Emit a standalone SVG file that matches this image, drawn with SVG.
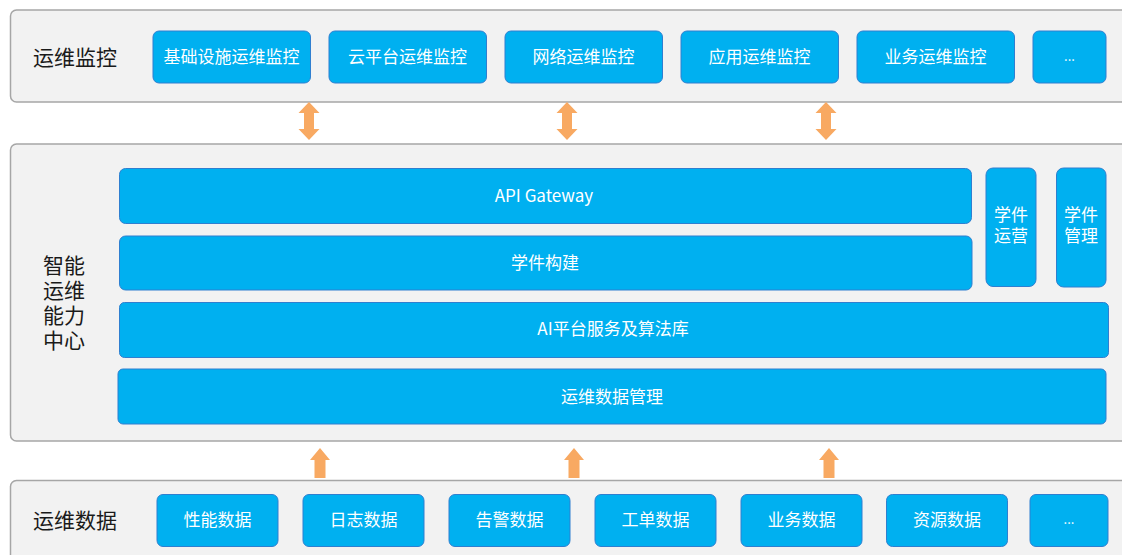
<svg xmlns="http://www.w3.org/2000/svg" width="1122" height="555" viewBox="0 0 1122 555">
<style>
.panel{fill:#F2F2F2;stroke:#A6A6A6;stroke-width:1.5}
.box{fill:#00B0F0;stroke:#2F7FD0;stroke-width:1}
.bt{fill:#FFFFFF;font-family:"Noto Sans CJK SC","Liberation Sans",sans-serif;font-size:17px;text-anchor:middle;dominant-baseline:central}
.bt2{fill:#FFFFFF;font-family:"Liberation Sans","Noto Sans CJK SC",sans-serif;font-size:17px;text-anchor:middle}
.lbl{fill:#1A1A1A;font-family:"Noto Sans CJK SC","Liberation Sans",sans-serif;font-size:21px;text-anchor:middle;dominant-baseline:central}
.lbl2{fill:#1A1A1A;font-family:"Liberation Sans","Noto Sans CJK SC",sans-serif;font-size:21px;text-anchor:middle}
.arr{fill:#F8A962}
</style>
<rect width="1122" height="555" fill="#FFFFFF"/>

<g id="panel-monitor">
<rect class="panel" x="10.5" y="10" width="1130" height="92" rx="6"/>
<text class="lbl" x="75" y="55.5">运维监控</text>
</g>
<g id="panel-center">
<rect class="panel" x="10.5" y="144" width="1130" height="297" rx="6"/>
<text class="lbl2" x="64" y="273"><tspan x="64" y="273">智能</tspan><tspan x="64" y="298">运维</tspan><tspan x="64" y="323">能力</tspan><tspan x="64" y="348">中心</tspan></text>
</g>
<g id="panel-data">
<rect class="panel" x="10.5" y="480.5" width="1130" height="90" rx="6"/>
<text class="lbl" x="75" y="518.5">运维数据</text>
</g>

<g id="m1"><rect class="box" x="153" y="31" width="157.5" height="52" rx="6"/><text class="bt" x="231.5" y="55.5">基础设施运维监控</text></g>
<g id="m2"><rect class="box" x="329" y="31" width="157.5" height="52" rx="6"/><text class="bt" x="407.5" y="55.5">云平台运维监控</text></g>
<g id="m3"><rect class="box" x="505" y="31" width="157.5" height="52" rx="6"/><text class="bt" x="583.5" y="55.5">网络运维监控</text></g>
<g id="m4"><rect class="box" x="681" y="31" width="157.5" height="52" rx="6"/><text class="bt" x="759.5" y="55.5">应用运维监控</text></g>
<g id="m5"><rect class="box" x="857" y="31" width="157.5" height="52" rx="6"/><text class="bt" x="935.5" y="55.5">业务运维监控</text></g>
<g id="m6"><rect class="box" x="1033" y="31" width="73" height="52" rx="6"/><text class="bt" x="1069.5" y="55.5" style="font-size:13px">...</text></g>

<g id="api"><rect class="box" x="119.5" y="168.5" width="852" height="55" rx="6"/><text class="bt" x="544" y="194.5">API Gateway</text></g>
<g id="build"><rect class="box" x="119.5" y="236" width="852.5" height="54" rx="6"/><text class="bt" x="545" y="261.5">学件构建</text></g>
<g id="ops"><rect class="box" x="986" y="168" width="50" height="118.5" rx="7"/><text class="bt2" x="1011" y="221"><tspan x="1011" y="221">学件</tspan><tspan x="1011" y="242">运营</tspan></text></g>
<g id="mgmt"><rect class="box" x="1056.5" y="168" width="49.5" height="119" rx="7"/><text class="bt2" x="1081" y="221"><tspan x="1081" y="221">学件</tspan><tspan x="1081" y="242">管理</tspan></text></g>
<g id="ai"><rect class="box" x="119.5" y="302.5" width="989" height="55" rx="5"/><text class="bt" x="613" y="327.5">AI平台服务及算法库</text></g>
<g id="dm"><rect class="box" x="118" y="369" width="988" height="55" rx="5"/><text class="bt" x="612" y="395.5">运维数据管理</text></g>

<g id="d1"><rect class="box" x="157" y="494.5" width="121" height="52" rx="6"/><text class="bt" x="217.5" y="518.5">性能数据</text></g>
<g id="d2"><rect class="box" x="303" y="494.5" width="121" height="52" rx="6"/><text class="bt" x="363.5" y="518.5">日志数据</text></g>
<g id="d3"><rect class="box" x="449" y="494.5" width="121" height="52" rx="6"/><text class="bt" x="509.5" y="518.5">告警数据</text></g>
<g id="d4"><rect class="box" x="595" y="494.5" width="121" height="52" rx="6"/><text class="bt" x="655.5" y="518.5">工单数据</text></g>
<g id="d5"><rect class="box" x="741" y="494.5" width="121" height="52" rx="6"/><text class="bt" x="801.5" y="518.5">业务数据</text></g>
<g id="d6"><rect class="box" x="886.5" y="494.5" width="121" height="52" rx="6"/><text class="bt" x="947" y="518.5">资源数据</text></g>
<g id="d7"><rect class="box" x="1030" y="494.5" width="78" height="52" rx="6"/><text class="bt" x="1069" y="518.5" style="font-size:13px">...</text></g>

<g id="connectors">
<polygon class="arr" points="309,102 319.5,113 314,113 314,129 319.5,129 309,140 298.5,129 304,129 304,113 298.5,113"/>
<polygon class="arr" points="567,102 577.5,113 572,113 572,129 577.5,129 567,140 556.5,129 562,129 562,113 556.5,113"/>
<polygon class="arr" points="826,102 836.5,113 831,113 831,129 836.5,129 826,140 815.5,129 821,129 821,113 815.5,113"/>
<polygon class="arr" points="320,448 330,460 325.5,460 325.5,478 314.5,478 314.5,460 310,460"/>
<polygon class="arr" points="574,448 584,460 579.5,460 579.5,478 568.5,478 568.5,460 564,460"/>
<polygon class="arr" points="829,448 839,460 834.5,460 834.5,478 823.5,478 823.5,460 819,460"/>
</g>
</svg>
